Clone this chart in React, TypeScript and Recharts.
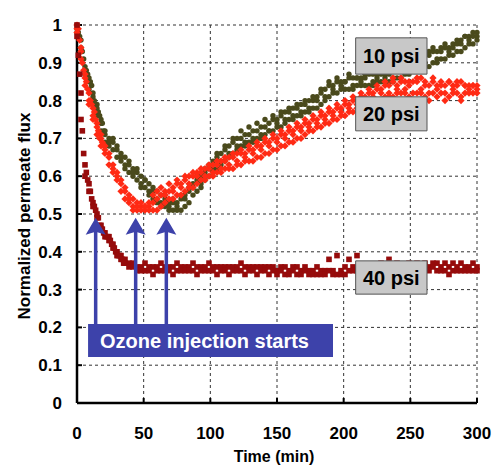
import React from 'react';
import { ScatterChart, Scatter, XAxis, YAxis, CartesianGrid, ReferenceArea, ReferenceLine, Label } from 'recharts';

// sampling times (min), shared by the banded readings
const times = [
  0, 3, 6, 9, 12, 15, 18, 21, 24, 27, 30, 33, 36, 39, 42, 45, 48, 51, 54, 57,
  60, 63, 66, 69, 72, 75, 78, 81, 84, 87, 90, 93, 96, 99, 102, 105, 108, 111, 114, 117,
  120, 123, 126, 129, 132, 135, 138, 141, 144, 147, 150, 153, 156, 159, 162, 165, 168, 171, 174, 177,
  180, 183, 186, 189, 192, 195, 198, 201, 204, 207, 210, 213, 216, 219, 222, 225, 228, 231, 234, 237,
  240, 243, 246, 249, 252, 255, 258, 261, 264, 267, 270, 273, 276, 279, 282, 285, 288, 291, 294, 297, 300,
];

// 10 psi
const flux10Hi = [
  1.0, 0.96, 0.89, 0.86, 0.82, 0.79, 0.75, 0.72, 0.7, 0.69, 0.68, 0.66, 0.65, 0.64, 0.62, 0.61, 0.6, 0.59, 0.58, 0.57,
  0.56, 0.55, 0.54, 0.53, 0.53, 0.53, 0.54, 0.55, 0.56, 0.57, 0.59, 0.6, 0.61, 0.62, 0.64, 0.65, 0.66, 0.67, 0.68, 0.69,
  0.7, 0.7, 0.71, 0.71, 0.72, 0.72, 0.73, 0.73, 0.74, 0.75, 0.75, 0.76, 0.77, 0.77, 0.78, 0.78, 0.79, 0.79, 0.8, 0.8,
  0.81, 0.82, 0.83, 0.84, 0.84, 0.85, 0.85, 0.85, 0.86, 0.86, 0.86, 0.86, 0.87, 0.87, 0.87, 0.87, 0.87, 0.87, 0.88, 0.88,
  0.88, 0.89, 0.89, 0.9, 0.9, 0.91, 0.91, 0.92, 0.93, 0.93, 0.93, 0.94, 0.94, 0.94, 0.95, 0.95, 0.96, 0.97, 0.97, 0.98, 0.98,
];
const flux10Lo = [
  0.99, 0.93, 0.87, 0.83, 0.8, 0.76, 0.72, 0.69, 0.68, 0.67, 0.65, 0.64, 0.62, 0.61, 0.6, 0.59, 0.57, 0.57, 0.55, 0.54,
  0.53, 0.52, 0.52, 0.51, 0.51, 0.51, 0.51, 0.52, 0.53, 0.55, 0.56, 0.58, 0.59, 0.6, 0.61, 0.62, 0.63, 0.64, 0.65, 0.66,
  0.67, 0.68, 0.68, 0.69, 0.69, 0.7, 0.7, 0.71, 0.72, 0.72, 0.73, 0.73, 0.74, 0.75, 0.75, 0.76, 0.76, 0.77, 0.77, 0.78,
  0.78, 0.79, 0.8, 0.81, 0.82, 0.82, 0.83, 0.83, 0.83, 0.83, 0.84, 0.84, 0.84, 0.84, 0.84, 0.85, 0.85, 0.85, 0.85, 0.85,
  0.86, 0.86, 0.87, 0.87, 0.88, 0.88, 0.89, 0.89, 0.89, 0.9, 0.9, 0.91, 0.91, 0.92, 0.92, 0.93, 0.93, 0.94, 0.95, 0.95, 0.96,
];
const flux10X = [
  0.98, 0.94, 0.88, 0.85, 0.81, 0.78, 0.74, 0.71, 0.69, 0.7, 0.67, 0.65, 0.63, 0.63, 0.61, 0.62, 0.58, 0.59, 0.56, 0.56,
  0.54, 0.53, 0.55, 0.52, 0.54, 0.52, 0.55, 0.54, 0.57, 0.58, 0.6, 0.57, 0.62, 0.63, 0.62, 0.66, 0.64, 0.68, 0.66, 0.7,
  0.68, 0.72, 0.69, 0.73, 0.7, 0.74, 0.71, 0.75, 0.72, 0.76, 0.74, 0.77, 0.75, 0.78, 0.76, 0.79, 0.77, 0.8, 0.78, 0.81,
  0.8, 0.83, 0.81, 0.85, 0.83, 0.86, 0.84, 0.85, 0.87, 0.84, 0.86, 0.85, 0.86, 0.88, 0.85, 0.86, 0.88, 0.86, 0.87, 0.86,
  0.89, 0.88, 0.9, 0.88, 0.91, 0.9, 0.92, 0.9, 0.92, 0.94, 0.91, 0.93, 0.95, 0.93, 0.94, 0.96, 0.95, 0.97, 0.96, 0.97, 0.97,
];
const early10Times = [1, 2, 4, 5, 7, 8, 10, 11, 13, 14, 16, 17, 19, 20];
const early10Flux = [0.98, 0.97, 0.93, 0.91, 0.88, 0.87, 0.85, 0.84, 0.8, 0.79, 0.77, 0.76, 0.74, 0.72];

// 20 psi
const flux20Hi = [
  1.0, 0.94, 0.87, 0.82, 0.78, 0.74, 0.71, 0.68, 0.66, 0.63, 0.61, 0.59, 0.57, 0.55, 0.54, 0.53, 0.52, 0.52, 0.52, 0.53,
  0.54, 0.55, 0.56, 0.56, 0.57, 0.58, 0.58, 0.59, 0.6, 0.6, 0.61, 0.61, 0.62, 0.62, 0.63, 0.63, 0.64, 0.64, 0.65, 0.65,
  0.66, 0.66, 0.66, 0.67, 0.67, 0.68, 0.68, 0.69, 0.69, 0.7, 0.7, 0.71, 0.71, 0.72, 0.72, 0.73, 0.73, 0.74, 0.74, 0.75,
  0.75, 0.76, 0.76, 0.77, 0.77, 0.78, 0.78, 0.79, 0.79, 0.8, 0.8, 0.81, 0.81, 0.82, 0.82, 0.83, 0.83, 0.84, 0.84, 0.85,
  0.84, 0.85, 0.85, 0.84, 0.85, 0.85, 0.86, 0.85, 0.84, 0.85, 0.84, 0.85, 0.84, 0.85, 0.84, 0.84, 0.85, 0.84, 0.84, 0.84, 0.84,
];
const flux20Lo = [
  0.98, 0.91, 0.84, 0.79, 0.75, 0.71, 0.68, 0.66, 0.63, 0.61, 0.59, 0.56, 0.54, 0.53, 0.51, 0.51, 0.51, 0.51, 0.51, 0.51,
  0.51, 0.52, 0.53, 0.54, 0.54, 0.55, 0.55, 0.56, 0.57, 0.57, 0.58, 0.59, 0.59, 0.6, 0.6, 0.61, 0.61, 0.62, 0.62, 0.62,
  0.63, 0.63, 0.64, 0.64, 0.64, 0.65, 0.65, 0.66, 0.66, 0.67, 0.67, 0.68, 0.68, 0.69, 0.69, 0.7, 0.7, 0.71, 0.72, 0.72,
  0.73, 0.73, 0.74, 0.74, 0.75, 0.75, 0.76, 0.76, 0.77, 0.77, 0.78, 0.78, 0.79, 0.79, 0.79, 0.8, 0.8, 0.81, 0.81, 0.81,
  0.82, 0.82, 0.82, 0.81, 0.82, 0.82, 0.82, 0.81, 0.82, 0.82, 0.81, 0.82, 0.82, 0.81, 0.82, 0.82, 0.81, 0.82, 0.82, 0.82, 0.82,
];
const flux20X = [
  0.99, 0.93, 0.86, 0.8, 0.76, 0.73, 0.7, 0.67, 0.65, 0.62, 0.6, 0.58, 0.56, 0.54, 0.52, 0.52, 0.53, 0.52, 0.53, 0.55,
  0.56, 0.57, 0.55, 0.58, 0.56, 0.59, 0.57, 0.6, 0.58, 0.61, 0.6, 0.62, 0.6, 0.63, 0.61, 0.64, 0.62, 0.65, 0.63, 0.66,
  0.64, 0.67, 0.65, 0.68, 0.66, 0.69, 0.67, 0.7, 0.68, 0.71, 0.69, 0.72, 0.7, 0.73, 0.71, 0.74, 0.72, 0.75, 0.73, 0.76,
  0.74, 0.77, 0.75, 0.78, 0.76, 0.79, 0.77, 0.8, 0.78, 0.81, 0.79, 0.82, 0.8, 0.83, 0.81, 0.84, 0.82, 0.85, 0.82, 0.86,
  0.83, 0.86, 0.83, 0.85, 0.8, 0.86, 0.83, 0.84, 0.8, 0.86, 0.83, 0.84, 0.8, 0.85, 0.83, 0.85, 0.8, 0.84, 0.83, 0.84, 0.83,
];
const early20Times = [1, 2, 4, 5, 7, 8, 10, 11, 13, 14, 16, 17, 19, 20];
const early20Flux = [0.99, 0.96, 0.9, 0.88, 0.85, 0.83, 0.8, 0.79, 0.77, 0.75, 0.72, 0.7, 0.69, 0.68];

// 40 psi
const flux40Hi = [
  1.0, 0.82, 0.63, 0.58, 0.53, 0.5, 0.47, 0.45, 0.44, 0.42, 0.4, 0.39, 0.38, 0.37, 0.37, 0.36, 0.36, 0.37, 0.36, 0.36,
  0.36, 0.37, 0.36, 0.36, 0.36, 0.37, 0.36, 0.36, 0.36, 0.37, 0.36, 0.36, 0.36, 0.37, 0.36, 0.36, 0.36, 0.36, 0.36, 0.36,
  0.36, 0.37, 0.36, 0.36, 0.36, 0.36, 0.36, 0.36, 0.36, 0.36, 0.35, 0.36, 0.36, 0.35, 0.36, 0.36, 0.35, 0.36, 0.35, 0.35,
  0.36, 0.35, 0.35, 0.38, 0.35, 0.39, 0.35, 0.36, 0.38, 0.36, 0.39, 0.36, 0.36, 0.36, 0.36, 0.36, 0.37, 0.36, 0.38, 0.36,
  0.37, 0.36, 0.36, 0.37, 0.36, 0.37, 0.36, 0.37, 0.36, 0.37, 0.37, 0.36, 0.37, 0.36, 0.37, 0.36, 0.37, 0.36, 0.36, 0.37, 0.36,
];
const flux40Lo = [
  0.97, 0.75, 0.6, 0.56, 0.52, 0.49, 0.46, 0.44, 0.43, 0.41, 0.39, 0.38, 0.37, 0.36, 0.36, 0.35, 0.35, 0.35, 0.35, 0.34,
  0.35, 0.35, 0.35, 0.35, 0.34, 0.35, 0.35, 0.35, 0.35, 0.35, 0.34, 0.35, 0.35, 0.35, 0.35, 0.34, 0.35, 0.35, 0.34, 0.35,
  0.35, 0.35, 0.34, 0.35, 0.35, 0.34, 0.35, 0.35, 0.34, 0.35, 0.34, 0.35, 0.34, 0.34, 0.35, 0.34, 0.34, 0.35, 0.34, 0.34,
  0.34, 0.34, 0.34, 0.35, 0.34, 0.34, 0.34, 0.34, 0.35, 0.35, 0.35, 0.35, 0.35, 0.35, 0.35, 0.35, 0.35, 0.35, 0.35, 0.35,
  0.35, 0.35, 0.35, 0.35, 0.35, 0.35, 0.35, 0.36, 0.35, 0.36, 0.35, 0.35, 0.35, 0.34, 0.35, 0.35, 0.35, 0.35, 0.35, 0.35, 0.35,
];
const early40Times = [1, 2, 4, 5, 7, 8, 10, 11, 13, 14, 16, 17, 19, 20, 22, 23, 25, 26, 28, 29, 31, 32, 34, 35];
const early40Flux = [0.92, 0.87, 0.72, 0.66, 0.61, 0.59, 0.56, 0.54, 0.52, 0.51, 0.49, 0.47, 0.46, 0.45, 0.44, 0.44, 0.43, 0.42, 0.41, 0.4, 0.39, 0.39, 0.38, 0.37];

const xTicks = [0, 50, 100, 150, 200, 250, 300];
const yTicks = [0, 0.1, 0.2, 0.3, 0.4, 0.5, 0.6, 0.7, 0.8, 0.9, 1];
const injectionTimes = [14, 44, 67];

const pts = (ts: number[], vs: number[]) => ts.map((t, i) => ({ t, v: vs[i] }));
const data10 = [...pts(times, flux10Hi), ...pts(times, flux10Lo), ...pts(times, flux10X), ...pts(early10Times, early10Flux)];
const data20 = [...pts(times, flux20Hi), ...pts(times, flux20Lo), ...pts(times, flux20X), ...pts(early20Times, early20Flux)];
const data40 = [...pts(times, flux40Hi), ...pts(times, flux40Lo), ...pts(early40Times, early40Flux)];

const FONT = 'Arial, "Liberation Sans", sans-serif';
const BLUE = '#3d42aa';

const Dot10 = (p: any) => <circle cx={p.cx} cy={p.cy} r={2.7} fill="#4a4a1c" />;
const Diamond20 = (p: any) => (
  <path d={`M${p.cx},${p.cy - 3.6}L${p.cx + 3.6},${p.cy}L${p.cx},${p.cy + 3.6}L${p.cx - 3.6},${p.cy}Z`} fill="#ff2a14" />
);
const Square40 = (p: any) => <rect x={p.cx - 2.8} y={p.cy - 2.8} width={5.6} height={5.6} fill="#960b0b" />;

const Arrow = (p: any) => {
  const x = p.x1;
  const top = Math.min(p.y1, p.y2);
  const bottom = Math.max(p.y1, p.y2);
  return (
    <g>
      <line x1={x} y1={bottom} x2={x} y2={top + 12} stroke={BLUE} strokeWidth={3.5} />
      <polygon points={`${x},${top} ${x + 10},${top + 17} ${x},${top + 14} ${x - 10},${top + 17}`} fill={BLUE} />
    </g>
  );
};

const boxLabel = (value: string) => ({
  value,
  position: 'center' as const,
  fill: '#000',
  fontSize: 20,
  fontWeight: 'bold',
  fontFamily: '"Liberation Sans Narrow", "Arial Narrow", Arial, sans-serif',
});

export default function App() {
  return (
    <div style={{ position: 'absolute', left: 0, top: 0, background: '#fff' }}>
      <ScatterChart width={496} height={469} margin={{ top: 25, right: 19, bottom: 36, left: 0 }}>
        <CartesianGrid strokeDasharray="3 3" stroke="#333" />
        <XAxis
          dataKey="t"
          type="number"
          domain={[0, 300]}
          ticks={xTicks}
          height={30}
          tickSize={-5}
          tickMargin={29}
          tickLine={{ stroke: '#000', strokeWidth: 2 }}
          axisLine={{ stroke: '#000', strokeWidth: 2.5 }}
          tick={{ fill: '#000', fontSize: 17, fontWeight: 'bold', fontFamily: FONT }}
        >
          <Label
            content={({ viewBox }: any) => (
              <text x={viewBox.x + viewBox.width / 2 - 3} y={viewBox.y + 59} textAnchor="middle" fontSize={16} fontWeight="bold" fontFamily={FONT} fill="#000">
                Time (min)
              </text>
            )}
          />
        </XAxis>
        <YAxis
          dataKey="v"
          type="number"
          domain={[0, 1]}
          ticks={yTicks}
          width={77}
          tickSize={-5}
          tickMargin={20}
          tickLine={{ stroke: '#000', strokeWidth: 2 }}
          axisLine={{ stroke: '#000', strokeWidth: 2.5 }}
          tickFormatter={(v: number) => (v === 0 || v === 1 ? String(v) : v.toFixed(1))}
          tick={{ fill: '#000', fontSize: 17, fontWeight: 'bold', fontFamily: FONT }}
        >
          <Label
            content={({ viewBox }: any) => {
              const cx = viewBox.x + 30;
              const cy = viewBox.y + viewBox.height / 2 + 2;
              return (
                <text x={cx} y={cy} transform={`rotate(-90 ${cx} ${cy})`} textAnchor="middle" fontSize={17} fontWeight="bold" fontFamily={FONT} fill="#000">
                  Normalized permeate flux
                </text>
              );
            }}
          />
        </YAxis>
        <Scatter data={data10} shape={Dot10} isAnimationActive={false} />
        <Scatter data={data20} shape={Diamond20} isAnimationActive={false} />
        <Scatter data={data40} shape={Square40} isAnimationActive={false} />
        {injectionTimes.map((t) => (
          <ReferenceLine key={t} segment={[{ x: t, y: 0.209 }, { x: t, y: 0.49 }]} shape={Arrow} zIndex={700} />
        ))}
        <ReferenceArea x1={8.3} x2={192} y1={0.122} y2={0.209} fill={BLUE} fillOpacity={1} stroke="none" zIndex={700}
          label={{ value: 'Ozone injection starts', position: 'center', fill: '#fff', fontSize: 20, fontWeight: 'bold', fontFamily: FONT, dx: -6 }} />
        <ReferenceArea x1={209} x2={262.5} y1={0.87} y2={0.966} fill="#c8c8c8" fillOpacity={1} stroke="#555" zIndex={700} label={boxLabel('10 psi')} />
        <ReferenceArea x1={209} x2={262.5} y1={0.72} y2={0.81} fill="#c8c8c8" fillOpacity={1} stroke="#555" zIndex={700} label={boxLabel('20 psi')} />
        <ReferenceArea x1={209} x2={262.5} y1={0.288} y2={0.376} fill="#c8c8c8" fillOpacity={1} stroke="#555" zIndex={700} label={boxLabel('40 psi')} />
      </ScatterChart>
    </div>
  );
}
